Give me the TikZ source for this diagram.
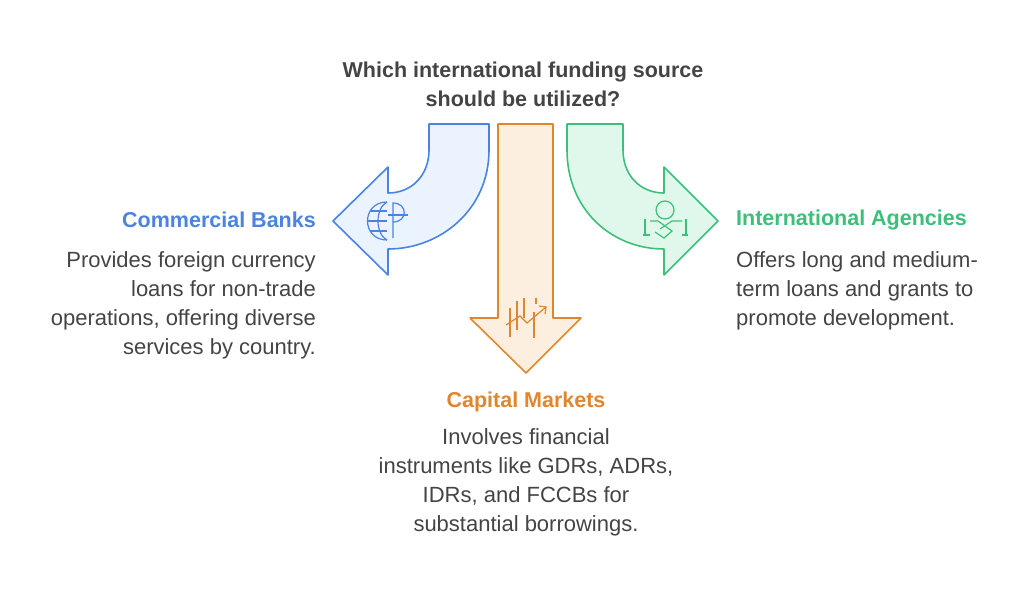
\documentclass[tikz,border=0pt]{standalone}
\usepackage{fontspec}
\setmainfont{Liberation Sans}
\definecolor{bankblue}{HTML}{4A84E0}
\definecolor{bankfill}{HTML}{EAF3FE}
\definecolor{capor}{HTML}{E0862F}
\definecolor{capfill}{HTML}{FDEFE0}
\definecolor{agreen}{HTML}{3DBF7A}
\definecolor{agfill}{HTML}{E0F8EC}
\definecolor{bodygray}{HTML}{444444}
\begin{document}
\begin{tikzpicture}[x=1pt,y=-1pt,
    heading/.style = {font=\fontsize{21.5}{29}\selectfont\bfseries, inner sep=0pt},
    body/.style = {font=\fontsize{22}{29}\selectfont, text=bodygray, inner sep=0pt},
    arrowline/.style = {line width=1.6pt, line join=round}]
    \useasboundingbox (0,0) rectangle (1024,595);

    \node[heading, text=bodygray, align=center] (title) at (523,84)
        {Which international funding source\\should be utilized?};

    % arrows
    \draw[arrowline, draw=bankblue, fill=bankfill] (429,124) -- (489,124) -- (489,150)
        .. controls (489,210) and (440,249) .. (388,249) -- (388,275) -- (333,221)
        -- (388,167) -- (388,193) .. controls (412,193) and (429,175) .. (429,150) -- cycle;
    \draw[arrowline, draw=capor, fill=capfill] (498,124) -- (553,124) -- (553,318)
        -- (581,318) -- (526,373) -- (470,318) -- (498,318) -- cycle;
    \draw[arrowline, draw=agreen, fill=agfill] (567,124) -- (623,124) -- (623,150)
        .. controls (623,175) and (640,193) .. (664,193) -- (664,167) -- (718,221)
        -- (664,275) -- (664,249) .. controls (612,249) and (567,210) .. (567,150) -- cycle;

    % icons
    \begin{scope}[draw=bankblue, line width=1.2pt]
        \draw (387,202) .. controls (361,202) and (361,240) .. (387,240);
        \draw (387,202) .. controls (375,208) and (375,234) .. (387,240);
        \draw (367,221) -- (387,221);
        \draw (370,211) -- (387,211);
        \draw (370,231) -- (387,231);
        \draw (393,238) -- (393,203) .. controls (408,203) and (408,222) .. (393,222);
        \draw (388,215) -- (408,215);
    \end{scope}
    \begin{scope}[draw=capor, line width=1.2pt]
        \foreach \x/\t/\b in {510/308/337, 517/301/330, 524/298/318, 536/298/304}
            \draw (\x,\t) -- (\x,\b);
        \draw (506,325) -- (520,316) -- (527,323) -- (546,307);
        \draw (539,306) -- (546,307) -- (545,314);
        \draw (534,312) -- (534,338);
    \end{scope}
    \begin{scope}[draw=agreen, line width=1.2pt]
        \draw (665,210) circle (9);
        \draw (650,221) -- (658,221) -- (672,231) -- (664,238) -- (655,232);
        \draw (682,221) -- (672,221) -- (660,229);
        \draw (645,219) -- (645,235);
        \draw (686,219) -- (686,235);
        \draw (643,235) -- (650,235);
        \draw (682,235) -- (688,235);
    \end{scope}

    % labels
    \node[heading, text=bankblue, anchor=east] (banks) at (316,220) {Commercial Banks};
    \node[body, anchor=north east, align=right] (banksdesc) at (316,251)
        {Provides foreign currency\\loans for non-trade\\operations, offering diverse\\services by country.};
    \node[heading, text=agreen, anchor=west] (agencies) at (736,220) {International Agencies};
    \node[body, anchor=north west, align=left] (agencydesc) at (736,251)
        {Offers long and medium-\\term loans and grants to\\promote development.};
    \node[heading, text=capor] (capital) at (526,402) {Capital Markets};
    \node[body, anchor=north, align=center] (capitaldesc) at (526,428)
        {Involves financial\\instruments like GDRs, ADRs,\\IDRs, and FCCBs for\\substantial borrowings.};
\end{tikzpicture}
\end{document}
